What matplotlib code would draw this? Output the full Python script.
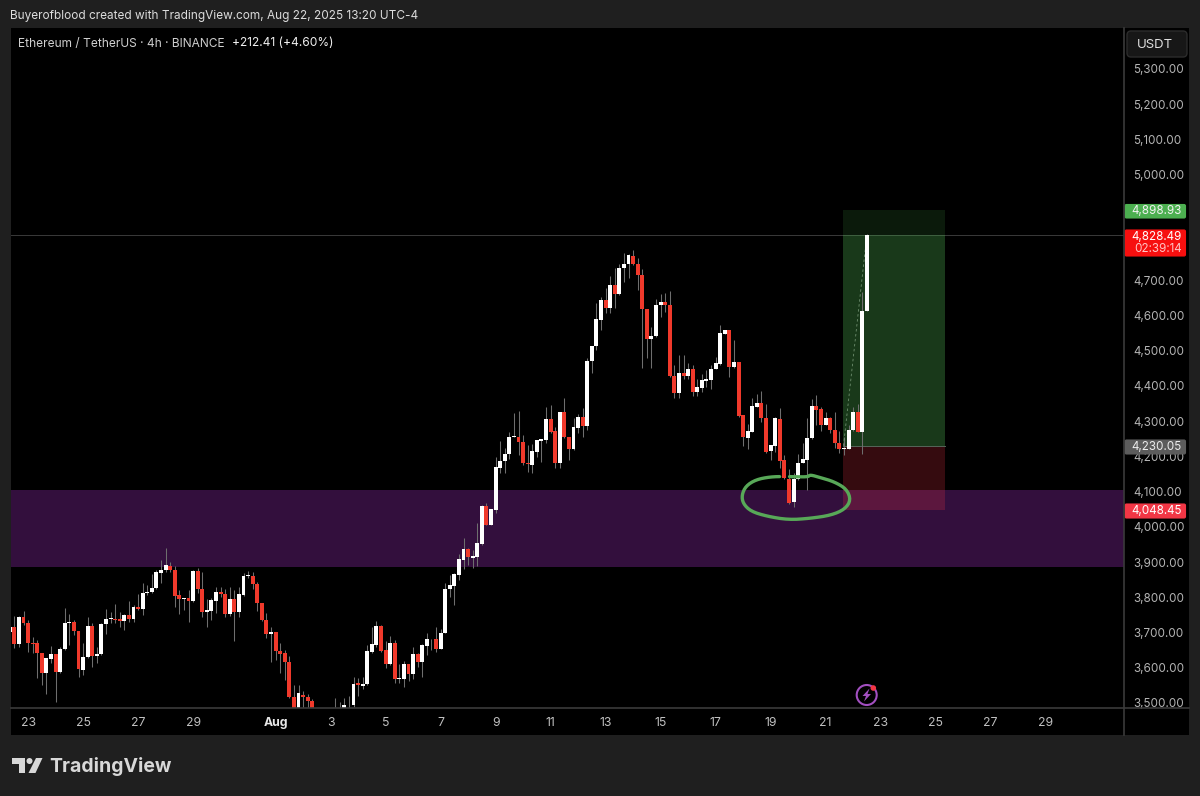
import numpy as np
import matplotlib
matplotlib.use("Agg")
import matplotlib.pyplot as plt
from matplotlib.patches import Rectangle, FancyBboxPatch, Polygon, Circle

plt.rcParams['font.family'] = ['Inter', 'DejaVu Sans']

# ETHUSDT 4h candles
opens = [3702,3715,3667,3743,3726,3669,3669,3641,3584,3626,
	3639,3589,3653,3728,3731,3704,3594,3630,3719,3632,
	3638,3723,3738,3739,3738,3733,3750,3738,3772,3766,
	3811,3814,3827,3870,3877,3890,3877,3806,3794,3797,
	3790,3875,3824,3759,3762,3790,3816,3809,3754,3795,
	3757,3807,3861,3861,3837,3785,3736,3696,3702,3649,
	3641,3615,3516,3480,3524,3516,3507,3480,3440,3400,
	3440,3450,3460,3470,3480,3493,3556,3549,3553,3646,
	3666,3718,3650,3611,3671,3567,3568,3612,3581,3638,
	3615,3663,3682,3681,3654,3700,3824,3833,3863,3906,
	3936,3912,3915,3951,4059,4005,4048,4166,4187,4206,
	4255,4256,4240,4182,4176,4213,4245,4246,4306,4272,
	4181,4327,4256,4220,4282,4313,4287,4471,4512,4587,
	4644,4620,4686,4660,4735,4746,4770,4745,4715,4617,
	4533,4542,4630,4637,4630,4428,4379,4437,4428,4449,
	4382,4395,4415,4418,4448,4462,4547,4560,4454,4468,
	4317,4252,4270,4341,4352,4309,4214,4230,4306,4189,
	4137,4071,4136,4181,4191,4251,4343,4334,4289,4309,
	4276,4239,4220,4221,4274,4325,4270,4613]
highs = [3715,3747,3747,3761,3736,3688,3679,3641,3627,3663,
	3639,3658,3769,3754,3737,3704,3669,3743,3726,3660,
	3726,3766,3759,3781,3759,3754,3790,3778,3809,3842,
	3835,3866,3877,3906,3939,3899,3889,3821,3798,3821,
	3877,3882,3873,3794,3797,3828,3830,3823,3828,3821,
	3830,3868,3876,3873,3844,3785,3756,3717,3702,3669,
	3650,3632,3551,3551,3535,3525,3511,3485,3450,3455,
	3480,3513,3504,3513,3520,3573,3570,3573,3664,3717,
	3734,3720,3677,3691,3679,3611,3620,3612,3660,3643,
	3667,3698,3683,3715,3709,3841,3863,3870,3923,3967,
	3939,3934,4010,4062,4068,4050,4197,4244,4223,4268,
	4324,4330,4261,4232,4235,4246,4249,4341,4346,4284,
	4327,4365,4256,4308,4320,4336,4478,4514,4636,4653,
	4679,4712,4734,4746,4778,4774,4786,4762,4731,4617,
	4568,4646,4661,4665,4669,4459,4487,4487,4464,4459,
	4421,4435,4445,4459,4483,4572,4560,4560,4530,4468,
	4317,4293,4367,4378,4386,4350,4232,4312,4336,4203,
	4163,4153,4208,4238,4308,4364,4374,4339,4326,4312,
	4326,4273,4255,4289,4341,4350,4667,4831]
lows = [3702,3655,3660,3721,3646,3641,3572,3551,3526,3613,
	3503,3584,3650,3665,3693,3575,3580,3627,3601,3613,
	3636,3696,3726,3728,3717,3707,3731,3731,3764,3750,
	3807,3811,3825,3840,3873,3873,3772,3753,3764,3731,
	3788,3811,3745,3715,3737,3756,3802,3745,3747,3677,
	3743,3804,3854,3825,3761,3734,3684,3617,3622,3584,
	3565,3515,3470,3470,3480,3480,3470,3420,3380,3380,
	3420,3430,3440,3450,3470,3490,3520,3539,3551,3643,
	3660,3646,3600,3608,3556,3558,3544,3563,3568,3603,
	3573,3636,3650,3646,3652,3698,3802,3778,3849,3879,
	3892,3884,3889,3948,4005,4005,4040,4152,4152,4192,
	4255,4204,4175,4157,4152,4199,4185,4237,4265,4168,
	4166,4251,4190,4218,4267,4256,4275,4437,4502,4560,
	4606,4606,4620,4658,4696,4707,4743,4672,4450,4478,
	4450,4540,4596,4611,4426,4367,4367,4421,4421,4371,
	4371,4383,4397,4391,4447,4459,4547,4426,4452,4312,
	4229,4222,4270,4341,4298,4211,4189,4213,4166,4137,
	4064,4057,4133,4180,4104,4249,4289,4273,4289,4265,
	4225,4210,4204,4220,4272,4270,4206,4613]
closes = [3715,3667,3745,3726,3669,3667,3641,3584,3627,3638,
	3589,3653,3728,3731,3704,3596,3630,3719,3632,3638,
	3724,3738,3740,3736,3733,3750,3738,3772,3766,3813,
	3816,3827,3871,3877,3891,3877,3805,3795,3798,3790,
	3875,3824,3759,3764,3792,3816,3809,3754,3795,3757,
	3808,3861,3863,3837,3785,3736,3696,3702,3649,3639,
	3615,3516,3480,3527,3516,3507,3480,3440,3400,3440,
	3465,3470,3475,3494,3484,3554,3550,3554,3647,3667,
	3718,3648,3611,3671,3567,3571,3612,3581,3638,3615,
	3664,3682,3681,3653,3700,3825,3835,3865,3908,3936,
	3913,3916,3953,4060,4006,4050,4170,4188,4207,4256,
	4258,4240,4182,4177,4215,4246,4249,4307,4270,4182,
	4327,4256,4220,4283,4313,4287,4472,4514,4589,4644,
	4622,4686,4660,4736,4747,4771,4745,4715,4617,4533,
	4543,4631,4637,4630,4428,4381,4437,4428,4448,4383,
	4396,4416,4419,4449,4464,4549,4560,4454,4468,4315,
	4254,4272,4343,4352,4308,4213,4232,4308,4187,4140,
	4069,4137,4182,4192,4251,4343,4331,4290,4308,4274,
	4238,4220,4223,4276,4325,4270,4613,4828.49]

# price scale and time scale
price_ticks = [5300,5200,5100,5000,4700,4600,4500,4400,4300,4200,4100,4000,3900,3800,3700,3600,3500]
time_ticks = [4,16,28,40,58,70,82,94,106,118,130,142,154,166,178,190,202,214,226]
time_labels = ['23','25','27','29','Aug','3','5','7','9','11','13','15','17','19','21','23','25','27','29']

# drawings
zone_top = 4104
zone_bottom = 3886
target = 4898.93
last_price = 4828.49
entry = 4230.05
stop = 4048.45
tool_left = 181.9
tool_right = 204.1
circle_x = [169.2,165.9,162.8,160.6,159.7,160.0,161.7,165.2,169.9,174.6,179.2,182.2,183.5,182.6,179.9,176.8,174.6,174.2,171.7,169.2]
circle_y = [4143,4142,4134,4116,4090,4066,4044,4030,4020,4024,4033,4050,4076,4107,4128,4140,4148,4142,4142,4143]

opens = np.array(opens, dtype=float)
highs = np.array(highs, dtype=float)
lows = np.array(lows, dtype=float)
closes = np.array(closes, dtype=float)
idx = np.arange(len(opens))


# round off the corners of the hand drawn stroke
def smooth_stroke(xs, ys, passes):
	xs = np.array(xs)
	ys = np.array(ys)
	for n in range(passes):
		xs = np.column_stack((0.75*xs[:-1]+0.25*xs[1:], 0.25*xs[:-1]+0.75*xs[1:])).ravel()
		ys = np.column_stack((0.75*ys[:-1]+0.25*ys[1:], 0.25*ys[:-1]+0.75*ys[1:])).ravel()
	return xs, ys


W, H = 1200, 796
fig = plt.figure(figsize=(W/100, H/100), dpi=100, facecolor='#1f1f1f')

# black panel behind everything
back = fig.add_axes([0, 0, 1, 1], zorder=0)
back.set_xlim(0, W)
back.set_ylim(H, 0)
back.axis('off')
back.add_patch(Rectangle((11, 28), 1178, 707, color='black', lw=0))

# price chart
ax = fig.add_axes([11/W, (H-708)/H, (1124-11)/W, (708-28)/H], zorder=1, facecolor='black')
ax.set_xlim(0.27, 243.1)
ax.set_ylim(3485.8, 5416)
for s in ax.spines.values():
	s.set_visible(False)

ax.axhspan(zone_bottom, zone_top, color='#330f3d', lw=0, zorder=1)
ax.axhline(last_price, color='#3a3a3a', lw=0.7, zorder=1.5)

# long position tool
ax.add_patch(Rectangle((tool_left, last_price), tool_right-tool_left, target-last_price, color='#4caf50', alpha=0.15, lw=0, zorder=2))
ax.add_patch(Rectangle((tool_left, entry), tool_right-tool_left, last_price-entry, color='#4caf50', alpha=0.33, lw=0, zorder=2))
ax.add_patch(Rectangle((tool_left, stop), tool_right-tool_left, entry-stop, color='#f23645', alpha=0.22, lw=0, zorder=2))
ax.plot([tool_left, tool_right], [entry, entry], color='#55665a', lw=0.7, zorder=2.1)
ax.plot([tool_left, idx[-1]], [entry, last_price], color='#6f8f6f', lw=0.6, dashes=(3, 3), zorder=3.2)

# candles
up = closes >= opens
colors = np.where(up, '#ffffff', '#f0392b')
ax.vlines(idx, lows, highs, color='#6e6e6e', lw=0.75, zorder=3)
ax.bar(idx, np.abs(closes-opens), bottom=np.minimum(opens, closes), width=0.86, color=colors, lw=0, zorder=3.5)

# hand drawn circle
sx, sy = smooth_stroke(circle_x, circle_y, 2)
ax.plot(sx, sy, color='#58a858', lw=2.4, solid_joinstyle='round', solid_capstyle='round', zorder=5)

ax.yaxis.tick_right()
ax.set_yticks(price_ticks)
ax.set_yticklabels(['{:,.2f}'.format(p) for p in price_ticks])
ax.tick_params(axis='y', length=0, pad=6.8, labelsize=8.4, labelcolor='#b4b4b4')
ax.set_xticks(time_ticks)
ax.set_xticklabels(time_labels)
ax.tick_params(axis='x', length=0, pad=6.5, labelsize=8.8, labelcolor='#c0c0c0')
for lab in ax.get_xticklabels():
	if lab.get_text() == 'Aug':
		lab.set_fontweight('bold')
		lab.set_color('#e8e8e8')

# header, tags, logo etc in pixel coordinates
top = fig.add_axes([0, 0, 1, 1], zorder=2)
top.set_xlim(0, W)
top.set_ylim(H, 0)
top.axis('off')
top.patch.set_alpha(0)

top.plot([11, 1124], [708, 708], color='#3a3a3a', lw=1.2)
top.plot([1124, 1189], [708, 708], color='#3a3a3a', lw=1.2)
top.plot([1124, 1124], [28, 735], color='#3a3a3a', lw=1.2)

top.text(10, 16, 'Buyerofblood created with TradingView.com, Aug 22, 2025 13:20 UTC-4', color='#dcdcdc', fontsize=8.5, va='center')
top.text(18, 43.5, 'Ethereum / TetherUS · 4h · BINANCE', color='#cfcfcf', fontsize=8.6, va='center')
top.text(232, 43.5, '+212.41 (+4.60%)', color='#f0f0f0', fontsize=8.6, va='center')


def tag(y0, y1, color):
	top.add_patch(FancyBboxPatch((1125, y0+1), 60.5, y1-y0-2, boxstyle='round,pad=0,rounding_size=1.5', fc=color, ec=color, lw=0.8))


tag(203.5, 219, '#4caf50')
top.text(1182, 211, '4,898.93', color='#f2f2f2', fontsize=8.4, ha='right', va='center')
tag(229, 257, '#f70f0f')
top.text(1182, 236.5, '4,828.49', color='#ffffff', fontsize=8.4, ha='right', va='center')
top.text(1182, 249, '02:39:14', color='#ffc4c4', fontsize=8.4, ha='right', va='center')
tag(439, 455, '#5c5c5c')
top.text(1182, 447, '4,230.05', color='#ececec', fontsize=8.4, ha='right', va='center')
tag(503, 519, '#f23645')
top.text(1182, 510.5, '4,048.45', color='#ffffff', fontsize=8.4, ha='right', va='center')

# currency button
top.add_patch(FancyBboxPatch((1127, 31), 60, 26, boxstyle='round,pad=0,rounding_size=4', fc='#171717', ec='#2c2c2c', lw=1))
top.text(1137, 44.5, 'USDT', color='#e0e0e0', fontsize=9.5, va='center')

# bolt icon
top.add_patch(Circle((866.7, 695), 10, fc='none', ec='#a24fc0', lw=1.5))
top.add_patch(Polygon([(869.5,688.5),(862.5,696),(866,696),(864,701.5),(871,694),(867.5,694)], fc='#a24fc0', lw=0))
top.add_patch(Circle((873.3, 688), 2.8, fc='#f23645', lw=0))

# logo
logo = '#d8d8d8'
top.add_patch(Polygon([(12,758),(25,758),(25,773),(19,773),(19,764),(12,764)], fc=logo, lw=0))
top.add_patch(Circle((29.5, 761), 3, fc=logo, lw=0))
top.add_patch(Polygon([(36,758),(42.5,758),(35.5,773),(28.5,773)], fc=logo, lw=0))
top.text(49, 766, 'TradingView', color=logo, fontsize=14, fontweight='bold', va='center')

fig.savefig('out.png', dpi=100, facecolor=fig.get_facecolor())
